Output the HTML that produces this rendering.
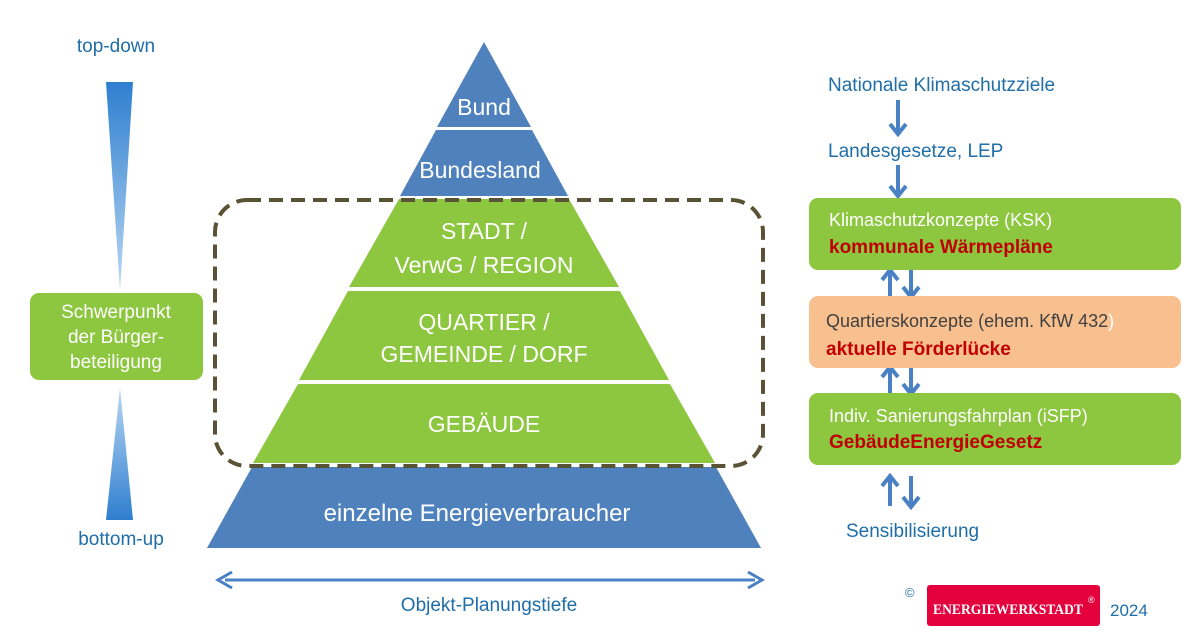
<!DOCTYPE html>
<html><head><meta charset="utf-8"><style>
body{margin:0;background:#fff;}
svg{display:block;font-family:"Liberation Sans","DejaVu Sans",sans-serif;}
</style></head><body>
<svg width="1200" height="634" viewBox="0 0 1200 634" xmlns="http://www.w3.org/2000/svg">
<defs>
<linearGradient id="g1" x1="0" y1="0" x2="0" y2="1"><stop offset="0" stop-color="#2f7fd0"/><stop offset="1" stop-color="#b9d7f3"/></linearGradient>
<linearGradient id="g2" x1="0" y1="0" x2="0" y2="1"><stop offset="0" stop-color="#b9d7f3"/><stop offset="1" stop-color="#2f7fd0"/></linearGradient>
</defs>
<polygon points="484,42 531,127 437,127" fill="#4f81bd"/>
<polygon points="436,130 532,130 568,196 400,196" fill="#4f81bd"/>
<polygon points="399,199 569,199 619,287 349,287" fill="#8dc63f"/>
<polygon points="348,291 620,291 669,380 299,380" fill="#8dc63f"/>
<polygon points="298,384 670,384 715,463 253,463" fill="#8dc63f"/>
<polygon points="252,467 716,467 761,548 207,548" fill="#4f81bd"/>
<g fill="#fff" font-size="23" text-anchor="middle">
<text x="484" y="115">Bund</text>
<text x="480" y="178">Bundesland</text>
<text x="484" y="239">STADT /</text>
<text x="484" y="273">VerwG / REGION</text>
<text x="484" y="330">QUARTIER /</text>
<text x="484" y="362">GEMEINDE / DORF</text>
<text x="484" y="432">GEBÄUDE</text>
<text x="477" y="521" font-size="24">einzelne Energieverbraucher</text>
</g>
<rect x="215" y="200" width="548" height="266" rx="32" fill="none" stroke="#5a5234" stroke-width="4" stroke-dasharray="14,8"/>
<line x1="225" y1="580" x2="755" y2="580" stroke="#4a80c4" stroke-width="3"/>
<path d="M232,572 L218,580 L232,588 M748,572 L762,580 L748,588" fill="none" stroke="#4a80c4" stroke-width="3"/>
<text x="489" y="611" font-size="19" fill="#1f6ea8" text-anchor="middle">Objekt-Planungstiefe</text>
<text x="116" y="52" font-size="19" fill="#1f6ea8" text-anchor="middle">top-down</text>
<polygon points="106,82 133,82 120,290" fill="url(#g1)"/>
<polygon points="120,388 133,520 106,520" fill="url(#g2)"/>
<text x="121" y="545" font-size="19" fill="#1f6ea8" text-anchor="middle">bottom-up</text>
<rect x="30" y="293" width="173" height="87" rx="9" fill="#8dc63f"/>
<g fill="#fff" font-size="19" text-anchor="middle">
<text x="116" y="318">Schwerpunkt</text>
<text x="116" y="343">der Bürger-</text>
<text x="116" y="368">beteiligung</text>
</g>
<g fill="#1f6ea8" font-size="19">
<text x="828" y="91">Nationale Klimaschutzziele</text>
<text x="828" y="157">Landesgesetze, LEP</text>
<text x="846" y="537">Sensibilisierung</text>
</g>
<g stroke="#4a80c4" stroke-width="4" fill="none" stroke-linecap="butt">
<!-- down arrows -->
<path d="M898,100 V133 M890,124 L898,134 L906,124"/>
<path d="M898,165 V195 M890,186 L898,196 L906,186"/>
<path d="M911,270 V296 M903,287 L911,297 L919,287"/>
<path d="M911,367 V393 M903,384 L911,394 L919,384"/>
<path d="M911,476 V506 M903,497 L911,507 L919,497"/>
<!-- up arrows -->
<path d="M890,297 V271 M882,280 L890,270 L898,280"/>
<path d="M890,393 V368 M882,377 L890,367 L898,377"/>
<path d="M890,506 V477 M882,486 L890,476 L898,486"/>
</g>
<rect x="809" y="198" width="372" height="72" rx="9" fill="#8dc63f"/>
<rect x="809" y="296" width="372" height="72" rx="9" fill="#f9c08f"/>
<rect x="809" y="393" width="372" height="72" rx="9" fill="#8dc63f"/>
<text x="829" y="226" font-size="18" fill="#fff">Klimaschutzkonzepte (KSK)</text>
<text x="829" y="253" font-size="19" font-weight="bold" fill="#c00000">kommunale Wärmepläne</text>
<text x="826" y="327" font-size="18" fill="#404040">Quartierskonzepte (ehem. KfW 432<tspan fill="#fff">)</tspan></text>
<text x="826" y="355" font-size="19" font-weight="bold" fill="#c00000">aktuelle Förderlücke</text>
<text x="829" y="422" font-size="18" fill="#fff">Indiv. Sanierungsfahrplan (iSFP)</text>
<text x="829" y="448" font-size="19" font-weight="bold" fill="#c00000">GebäudeEnergieGesetz</text>
<text x="905" y="597" font-size="13" fill="#1f6ea8">©</text>
<rect x="927" y="585" width="173" height="41" rx="3" fill="#e4003c"/>
<text x="933" y="614" font-size="15" font-weight="bold" fill="#fff" textLength="150" lengthAdjust="spacingAndGlyphs" font-family="Liberation Serif,serif">ENERGIEWERKSTADT</text>
<text x="1088" y="603" font-size="9" fill="#fff">®</text>
<text x="1110" y="616" font-size="17" fill="#1f6ea8">2024</text>
</svg>
</body></html>
